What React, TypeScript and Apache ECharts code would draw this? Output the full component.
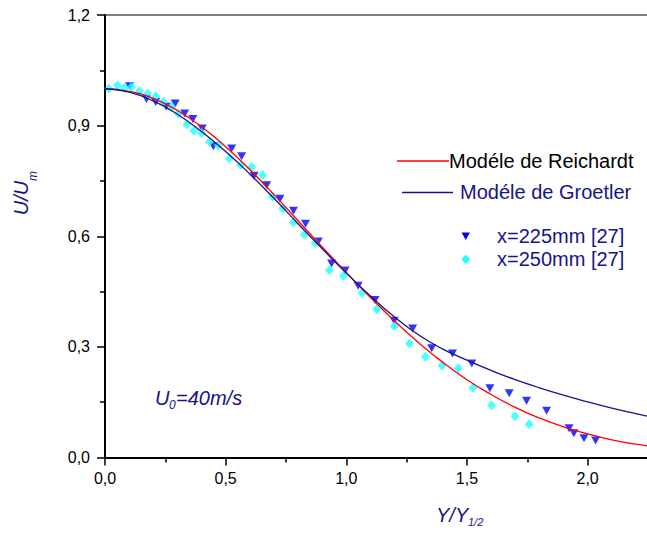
import React, { useEffect, useRef } from "react";
import * as echarts from "echarts";

// Model curves (x = Y/Y1/2, value = U/Um)
const modelX = [0, 0.1, 0.2, 0.3, 0.4, 0.5, 0.6, 0.7, 0.8, 0.9, 1.0, 1.1, 1.2, 1.3, 1.4, 1.5, 1.6, 1.7, 1.8, 1.9, 2.0, 2.1, 2.2, 2.3];
const reichardt = [1.0, 0.993, 0.974, 0.941, 0.897, 0.843, 0.781, 0.713, 0.642, 0.571, 0.502, 0.434, 0.37, 0.311, 0.258, 0.211, 0.171, 0.136, 0.107, 0.083, 0.064, 0.048, 0.036, 0.027];
const goertler = [1.0, 0.991, 0.967, 0.931, 0.884, 0.83, 0.769, 0.703, 0.634, 0.566, 0.5, 0.438, 0.381, 0.332, 0.294, 0.264, 0.236, 0.211, 0.189, 0.169, 0.151, 0.134, 0.119, 0.105];

// Measurements x=225mm [27]
const x225 = [0.102, 0.172, 0.21, 0.254, 0.291, 0.33, 0.364, 0.403, 0.449, 0.525, 0.566, 0.618, 0.67, 0.725, 0.781, 0.831, 0.884, 0.939, 0.995, 1.049, 1.119, 1.198, 1.275, 1.354, 1.44, 1.52, 1.595, 1.675, 1.747, 1.83, 1.923, 1.943, 1.985, 2.033];
const u225 = [1.007, 0.972, 0.964, 0.951, 0.96, 0.933, 0.918, 0.892, 0.844, 0.838, 0.817, 0.764, 0.738, 0.702, 0.669, 0.634, 0.586, 0.526, 0.507, 0.466, 0.427, 0.371, 0.35, 0.296, 0.282, 0.255, 0.188, 0.174, 0.154, 0.127, 0.079, 0.066, 0.052, 0.046];

// Measurements x=250mm [27]
const x250 = [0.016, 0.052, 0.081, 0.11, 0.143, 0.177, 0.211, 0.242, 0.276, 0.304, 0.339, 0.369, 0.4, 0.433, 0.47, 0.516, 0.563, 0.608, 0.653, 0.695, 0.737, 0.781, 0.826, 0.871, 0.93, 0.988, 1.065, 1.126, 1.199, 1.262, 1.328, 1.397, 1.464, 1.525, 1.602, 1.699, 1.758];
const u250 = [1.0, 1.009, 1.003, 1.005, 0.994, 0.987, 0.98, 0.964, 0.951, 0.933, 0.903, 0.886, 0.88, 0.856, 0.847, 0.811, 0.793, 0.788, 0.766, 0.707, 0.675, 0.637, 0.605, 0.582, 0.508, 0.492, 0.447, 0.402, 0.356, 0.309, 0.273, 0.249, 0.242, 0.189, 0.142, 0.112, 0.09];

const legendLabels = ["Modéle de Reichardt", "Modéle de Groetler", "x=225mm [27]", "x=250mm [27]"];

const FONT = "'Liberation Sans', Arial, sans-serif";
const NAVY = "#14148c";
const RED = "#ff0000";
const BLUE = "#0000ff";
const CYAN = "#22ffff";

const fmt = (v: number) => v.toFixed(1).replace(".", ",");

export default function App() {
  const ref = useRef<HTMLDivElement>(null);
  useEffect(() => {
    if (!ref.current) return;
    const chart = echarts.init(ref.current, undefined, { renderer: "svg" });
    const zip = (xs: number[], ys: number[]) => xs.map((x, i) => [x, ys[i]]);
    const txt = (x: number, y: number, text: string, size: number, fill: string, extra: any = {}, italic = false) => ({
      type: "text",
      x,
      y,
      ...extra,
      style: {
        text,
        fill,
        fontSize: size,
        fontFamily: FONT,
        fontStyle: italic ? "italic" : "normal",
        textAlign: extra.align || "left",
        textVerticalAlign: "middle",
      },
    });
    chart.setOption({
      animation: false,
      backgroundColor: "#ffffff",
      grid: {
        left: 105,
        top: 15,
        width: 555,
        height: 442.5,
        show: true,
        borderColor: "#000",
        borderWidth: 1.2,
      },
      xAxis: {
        type: "value",
        min: 0,
        max: 2.3,
        interval: 0.5,
        axisLine: { show: true, onZero: false, lineStyle: { color: "#000", width: 2 } },
        axisTick: { show: true, inside: false, length: 8, lineStyle: { color: "#000", width: 1.5 } },
        minorTick: { show: true, splitNumber: 2, length: 5, lineStyle: { color: "#000", width: 1.5 } },
        splitLine: { show: false },
        axisLabel: { color: "#000", fontSize: 16, fontFamily: FONT, margin: 13, formatter: fmt, showMaxLabel: false },
      },
      yAxis: {
        type: "value",
        min: 0,
        max: 1.2,
        interval: 0.3,
        axisLine: { show: true, onZero: false, lineStyle: { color: "#000", width: 2 } },
        axisTick: { show: true, inside: false, length: 8, lineStyle: { color: "#000", width: 1.5 } },
        minorTick: { show: true, splitNumber: 2, length: 5, lineStyle: { color: "#000", width: 1.5 } },
        splitLine: { show: false },
        axisLabel: { color: "#000", fontSize: 16, fontFamily: FONT, margin: 15, formatter: fmt },
      },
      series: [
        {
          name: legendLabels[0],
          type: "line",
          data: zip(modelX, reichardt),
          smooth: true,
          showSymbol: false,
          lineStyle: { color: RED, width: 1.3 },
          z: 3,
        },
        {
          name: legendLabels[1],
          type: "line",
          data: zip(modelX, goertler),
          smooth: true,
          showSymbol: false,
          lineStyle: { color: NAVY, width: 1.3 },
          z: 3,
        },
        {
          name: legendLabels[2],
          type: "scatter",
          data: zip(x225, u225),
          symbol: "triangle",
          symbolRotate: 180,
          symbolSize: [9, 8],
          itemStyle: { color: BLUE },
          z: 2,
        },
        {
          name: legendLabels[3],
          type: "scatter",
          data: zip(x250, u250),
          symbol: "diamond",
          symbolSize: [9, 10],
          itemStyle: { color: CYAN },
          z: 2,
        },
      ],
      graphic: [
        // legend
        { type: "line", shape: { x1: 397, y1: 161, x2: 449, y2: 161 }, style: { stroke: RED, lineWidth: 1.3 } },
        txt(449, 161, legendLabels[0], 20, "#000"),
        { type: "line", shape: { x1: 402, y1: 192.5, x2: 453, y2: 192.5 }, style: { stroke: NAVY, lineWidth: 1.3 } },
        txt(460, 192, legendLabels[1], 20, NAVY),
        {
          type: "polygon",
          shape: { points: [[461.5, 232.5], [470, 232.5], [465.75, 240]] },
          style: { fill: BLUE },
        },
        txt(497, 236, legendLabels[2], 20, NAVY),
        {
          type: "polygon",
          shape: { points: [[465.75, 254.5], [470.2, 259.3], [465.75, 264.1], [461.3, 259.3]] },
          style: { fill: CYAN },
        },
        txt(497, 259, legendLabels[3], 20, NAVY),
        // y-axis title U/U_m
        txt(21, 198, "U/U", 20, NAVY, { rotation: Math.PI / 2, align: "center" }, true),
        txt(33, 176, "m", 12, NAVY, { rotation: Math.PI / 2, align: "center" }, true),
        // x-axis title Y/Y_1/2
        txt(436, 515, "Y/Y", 20, NAVY, {}, true),
        txt(468, 522, "1/2", 11, NAVY, {}, true),
        // annotation U0=40m/s
        txt(155, 398, "U", 20, NAVY, {}, true),
        txt(169, 405, "0", 12, NAVY, {}, true),
        txt(176, 398, "=40m/s", 20, NAVY, {}, true),
      ],
    });
    return () => chart.dispose();
  }, []);
  return (
    <div style={{ position: "fixed", left: 0, top: 0, width: 647, height: 534, overflow: "hidden", background: "#fff" }}>
      <div ref={ref} style={{ width: 700, height: 534 }} />
    </div>
  );
}
